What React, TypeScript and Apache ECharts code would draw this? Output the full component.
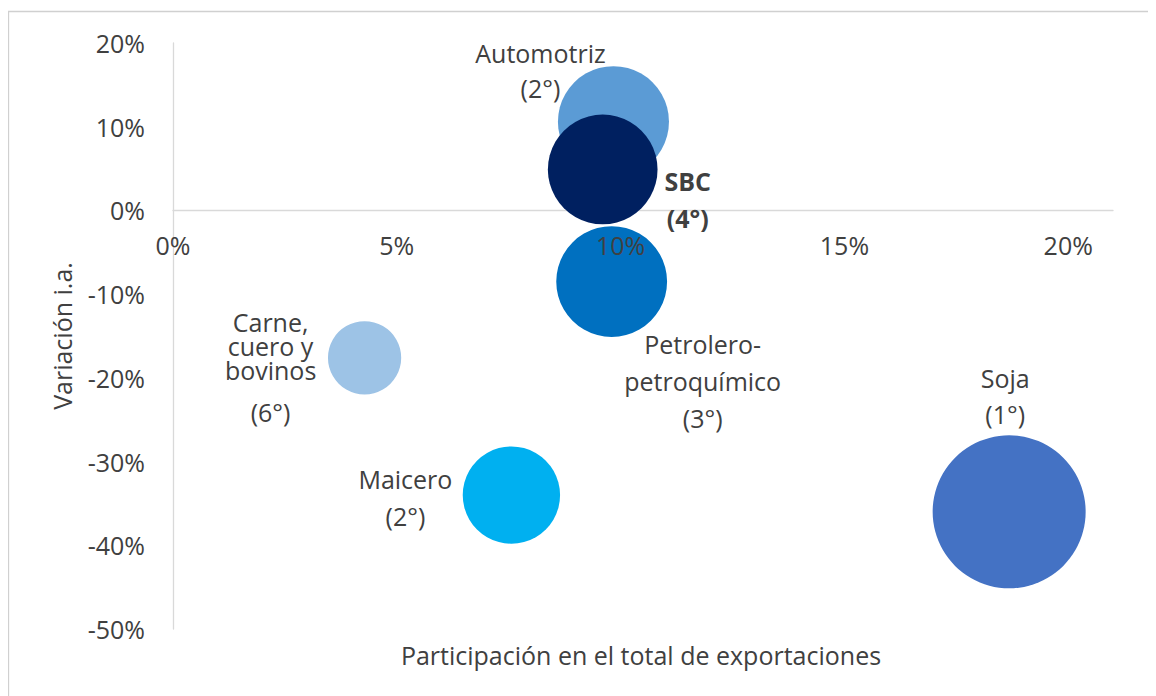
import React, { useEffect, useRef } from "react";
import * as echarts from "echarts";

const categories = ["Automotriz", "SBC", "Petrolero-petroquímico", "Carne, cuero y bovinos", "Maicero", "Soja"];
const ranks = ["2°", "4°", "3°", "6°", "2°", "1°"];
// Participación en el total de exportaciones (%)
const shares = [9.84, 9.6, 9.8, 4.28, 7.56, 18.68];
// Variación i.a. (%)
const variation = [10.6, 4.9, -8.5, -17.6, -34.0, -36.0];
// Bubble size (share of exports, %)
const sizes = [9.84, 9.6, 9.8, 4.28, 7.56, 18.68];
const colors = ["#5B9BD5", "#002060", "#0070C0", "#9DC3E6", "#00B0F0", "#4472C4"];

const xTicks = { min: 0, max: 21, interval: 5 };
const yTicks = { min: -50, max: 20, interval: 10 };

const FONT = "Open Sans";
const FS = 25;
const TXT = "#404040";

const labelCfg: any[] = [
  { d: [-73, -51], lineHeight: 35, formatter: "Automotriz\n(2°)" },
  { d: [85, 30], lineHeight: 37, formatter: "SBC\n(4°)", fontWeight: "bold" },
  { d: [91, 99], lineHeight: 37, formatter: "Petrolero-\npetroquímico\n(3°)" },
  {
    d: [-94, 18],
    formatter: "{a|Carne,}\n{a|cuero y}\n{a|bovinos}\n{b|(6°)}",
    rich: {
      a: { lineHeight: 24, fontSize: FS, fontFamily: FONT, color: TXT },
      b: { lineHeight: 60, fontSize: FS, fontFamily: FONT, color: TXT },
    },
  },
  { d: [-106, 2], lineHeight: 37, formatter: "Maicero\n(2°)" },
  { d: [-4, -116], lineHeight: 36, formatter: "Soja\n(1°)" },
];

export default function App() {
  const ref = useRef<HTMLDivElement>(null);
  useEffect(() => {
    if (!ref.current) return;
    const chart = echarts.init(ref.current, null, { renderer: "svg" });
    const data = categories.map((name, i) => {
      const { d, ...lab } = labelCfg[i];
      return {
        name,
        value: [shares[i], variation[i], sizes[i]],
        itemStyle: { color: colors[i], opacity: 1 },
        label: {
          show: true,
          position: "inside",
          align: "center",
          verticalAlign: "middle",
          fontFamily: FONT,
          fontSize: FS,
          color: TXT,
          ...lab,
        },
      };
    });
    const fmt = (v: number) => `${Math.round(v)}%`;
    chart.setOption({
      animation: false,
      backgroundColor: "#fff",
      textStyle: { fontFamily: FONT },
      grid: [
        { left: 165, top: 35, right: 43, bottom: 67, containLabel: false },
        { left: 165, top: 35, right: 43, height: 167, containLabel: false },
      ],
      xAxis: [
        {
          type: "value",
          gridIndex: 0,
          min: xTicks.min,
          max: xTicks.max,
          interval: xTicks.interval,
          axisLine: { show: true, onZero: true, lineStyle: { color: "#D9D9D9", width: 1.3 } },
          axisTick: { show: false },
          splitLine: { show: false },
          axisLabel: { show: false },
        },
        {
          type: "value",
          gridIndex: 1,
          min: xTicks.min,
          max: xTicks.max,
          interval: xTicks.interval,
          z: 5,
          axisLine: { show: false },
          axisTick: { show: false },
          splitLine: { show: false },
          axisLabel: {
            formatter: fmt,
            fontFamily: FONT,
            fontSize: FS,
            color: TXT,
            margin: 22,
            showMaxLabel: false,
          },
        },
      ],
      yAxis: [
        {
          type: "value",
          gridIndex: 0,
          min: yTicks.min,
          max: yTicks.max,
          interval: yTicks.interval,
          name: "Variación i.a.",
          nameLocation: "middle",
          nameGap: 99,
          nameTextStyle: { fontFamily: FONT, fontSize: FS, color: TXT },
          axisLine: { show: true, onZero: false, lineStyle: { color: "#D9D9D9", width: 1.3 } },
          axisTick: { show: false },
          splitLine: { show: false },
          axisLabel: {
            formatter: fmt,
            fontFamily: FONT,
            fontSize: FS,
            color: TXT,
            margin: 28,
          },
        },
        {
          type: "value",
          gridIndex: 1,
          min: 0,
          max: 20,
          show: false,
        },
      ],
      graphic: [
        {
          type: "rect",
          shape: { x: 0.5, y: 3.5, width: 1200, height: 800 },
          style: { fill: "none", stroke: "#D0D0D0", lineWidth: 1.3 },
          silent: true,
          z: -1,
        },
        {
          type: "text",
          x: 633,
          y: 647,
          style: {
            text: "Participación en el total de exportaciones",
            fontFamily: FONT,
            fontSize: FS,
            fill: TXT,
            textAlign: "center",
            textVerticalAlign: "middle",
          },
        },
      ],
      series: [
        {
          type: "scatter",
          xAxisIndex: 0,
          yAxisIndex: 0,
          data,
          z: 2,
          symbolSize: (val: number[]) => 35.4 * Math.sqrt(val[2]),
          emphasis: { disabled: true },
          labelLayout: (params: any) => {
            const d = labelCfg[params.dataIndex].d;
            const r = params.rect;
            return {
              x: r.x + r.width / 2 + d[0],
              y: r.y + r.height / 2 + d[1],
              align: "center",
              verticalAlign: "middle",
              hideOverlap: false,
            };
          },
        },
      ],
    });
    return () => chart.dispose();
  }, []);
  return <div ref={ref} style={{ width: 1148, height: 688 }} />;
}
